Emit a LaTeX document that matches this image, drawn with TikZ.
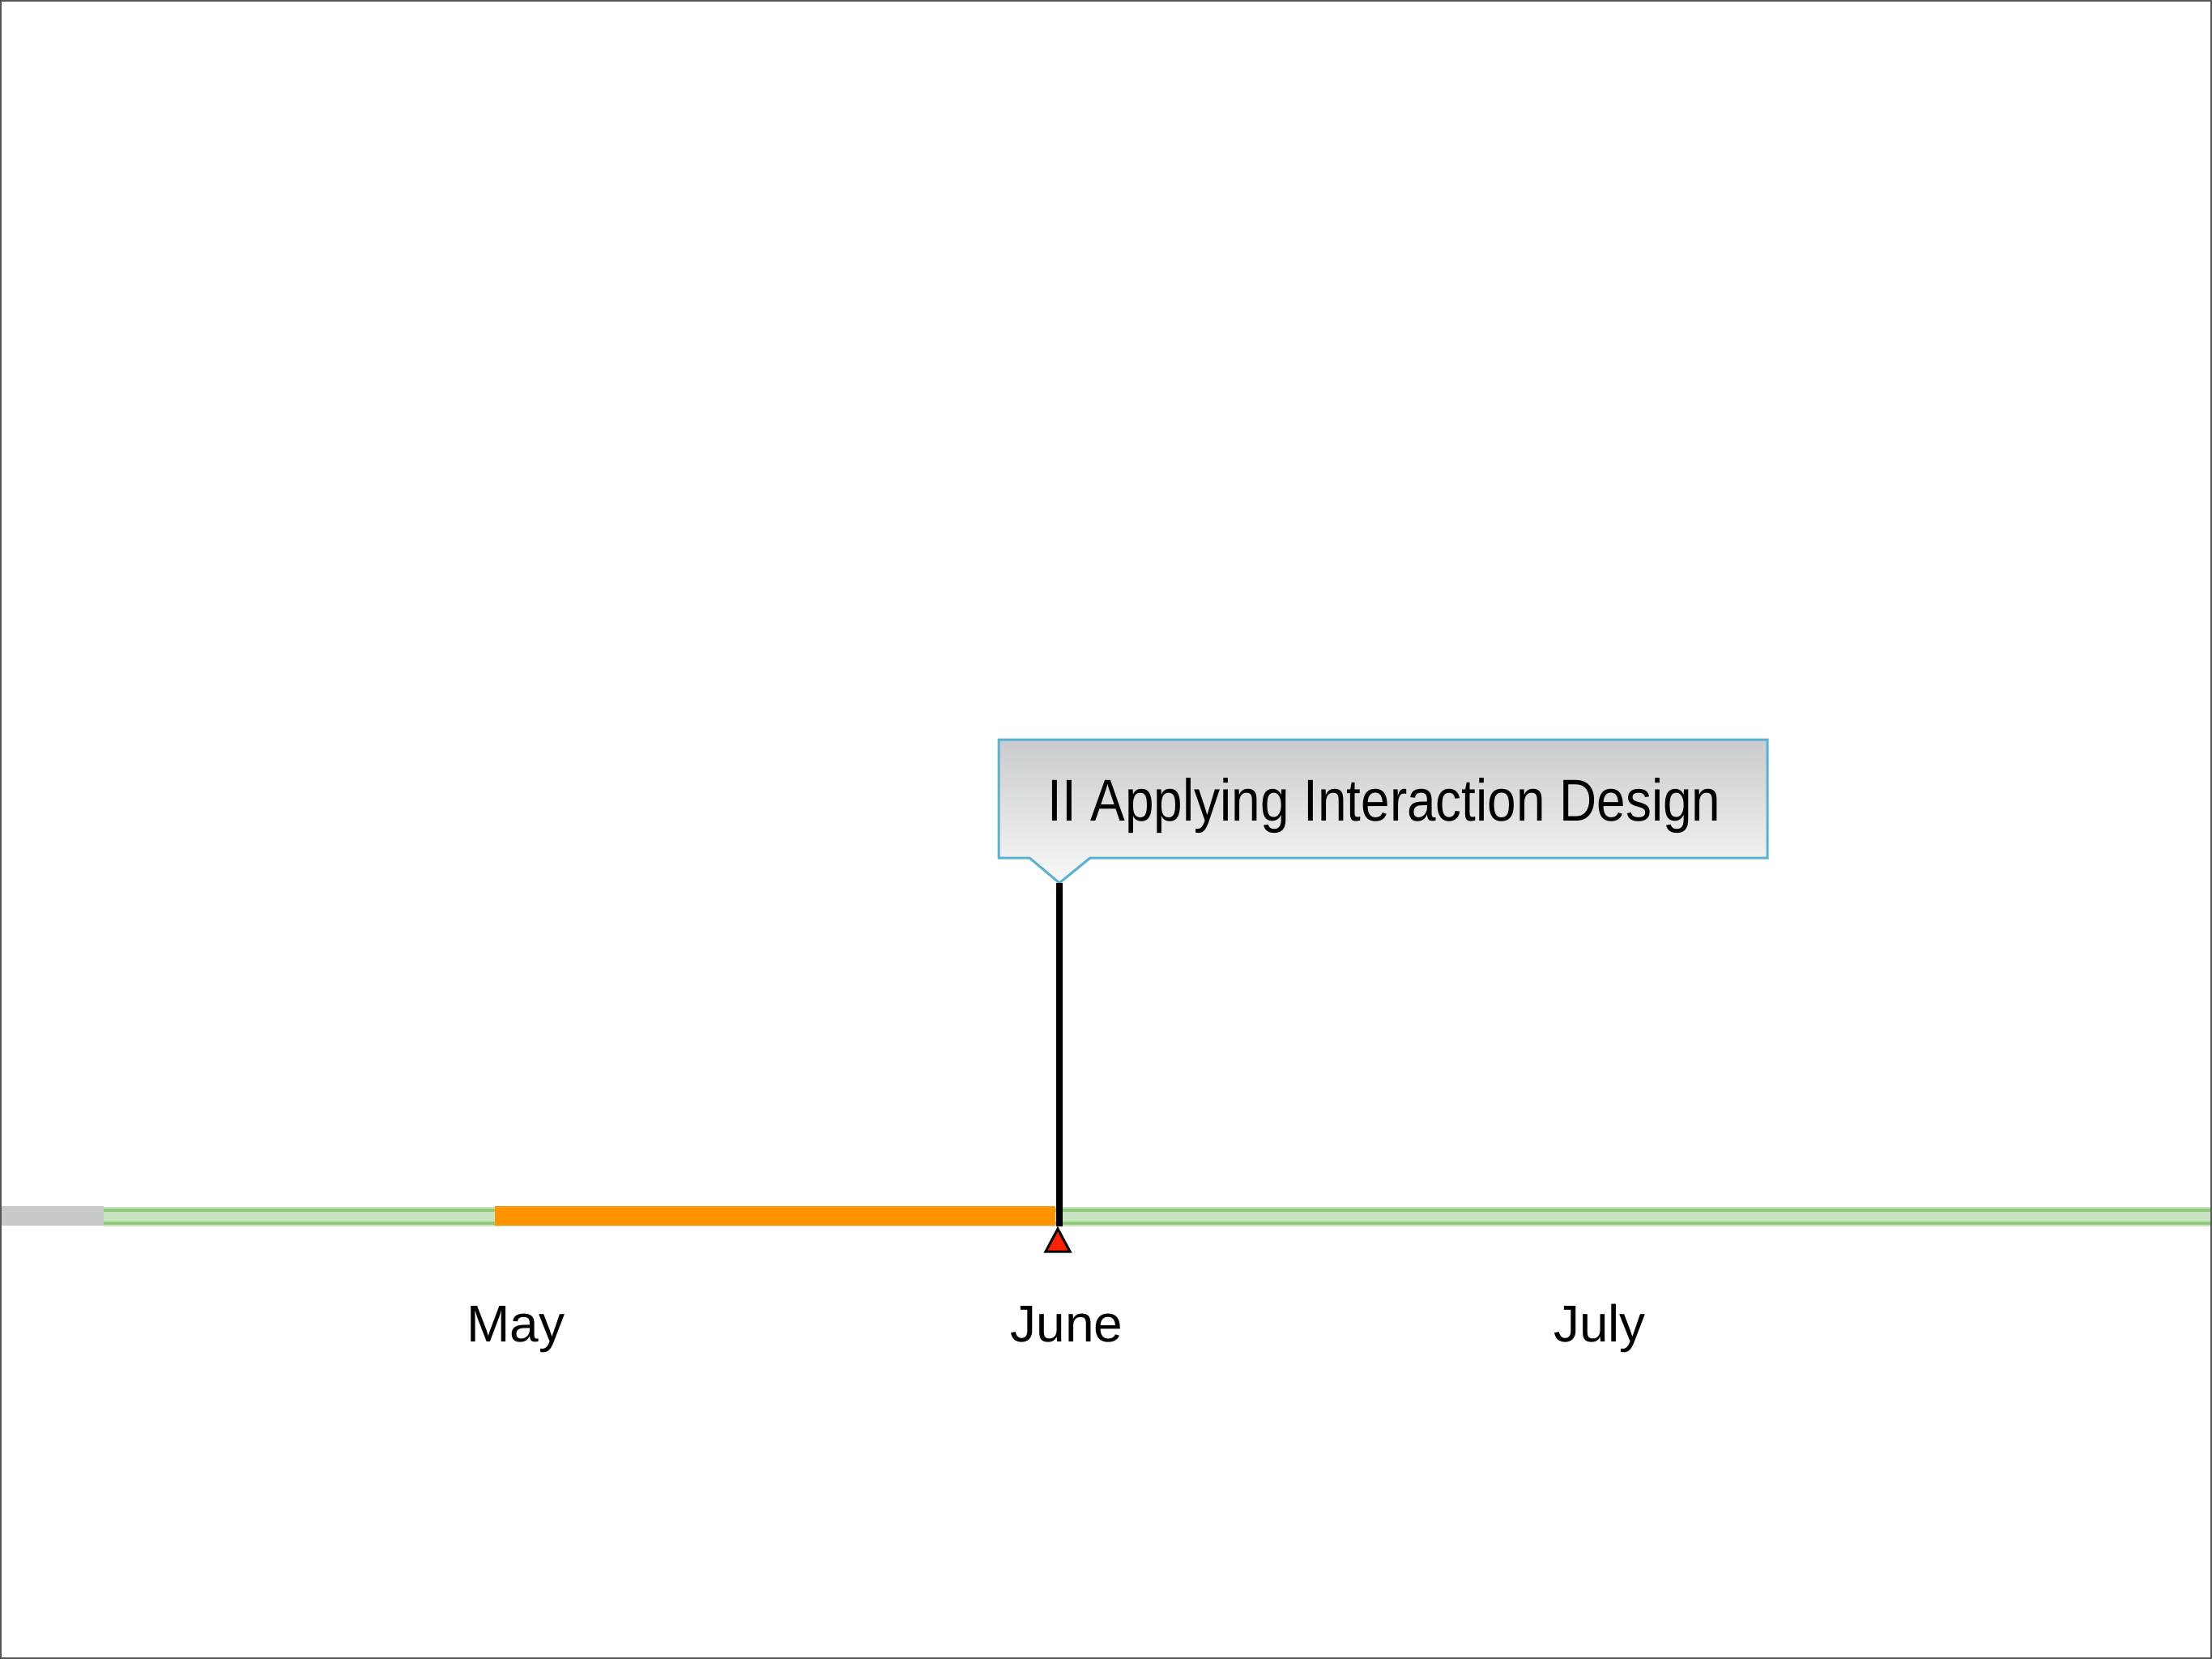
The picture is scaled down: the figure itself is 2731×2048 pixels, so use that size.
\documentclass[tikz,border=0pt]{standalone}
\usepackage{fontspec}
\setmainfont{Liberation Sans}
\begin{document}
\begin{tikzpicture}[x=1pt,y=-1pt,
  month/.style={anchor=base,inner sep=0pt,font=\fontsize{64}{70}\selectfont},
  calltext/.style={anchor=base,inner sep=0pt,font=\fontsize{73}{80}\selectfont},
  greenbar/.style={fill={rgb,255:red,200;green,228;blue,192}},
  greenedge/.style={draw={rgb,255:red,146;green,202;blue,124},line width=4pt},
]
\useasboundingbox (0,0) rectangle (2731,2048);
\fill[white] (0,0) rectangle (2731,2048);
\definecolor{callblue}{RGB}{88,178,210}
\definecolor{orangebar}{RGB}{255,148,0}
\definecolor{redtri}{RGB}{255,34,0}
\definecolor{graybar}{RGB}{200,201,203}
% timeline
\fill[greenbar] (128,1490) rectangle (2731,1514);
\draw[greenedge] (128,1494) -- (2731,1494);
\draw[greenedge] (128,1510) -- (2731,1510);
\fill[graybar] (0,1489) rectangle (128,1513);
\fill[orangebar] (611,1489) rectangle (1303,1513);
% callout
\shade[top color={rgb,255:red,202;green,203;blue,206},bottom color={rgb,255:red,248;green,248;blue,248},draw=callblue,line width=3pt]
  (1233,913) -- (2182,913) -- (2182,1059) -- (1346,1059) -- (1308,1090) -- (1271,1059) -- (1233,1059) -- cycle;
\coordinate (tip) at (1308,1090);
\node[calltext] (title) at (1709,1013) {\scalebox{0.875}[1]{II Applying Interaction Design}};
% marker
\coordinate (mktop) at (1308,1514);
\draw[line width=7.5pt] (tip) -- (mktop);
\fill[redtri,draw=black,line width=3pt,line join=miter] (1306,1517) -- (1321,1545) -- (1291,1545) -- cycle;
% months
\node[month] (may) at (637,1656) {May};
\node[month] (june) at (1317,1656) {June};
\node[month] (july) at (1975,1656) {July};
% frame
\draw[line width=2pt,color={rgb,255:red,85;green,85;blue,85}] (1,1) rectangle (2730,2047);
\end{tikzpicture}
\end{document}
